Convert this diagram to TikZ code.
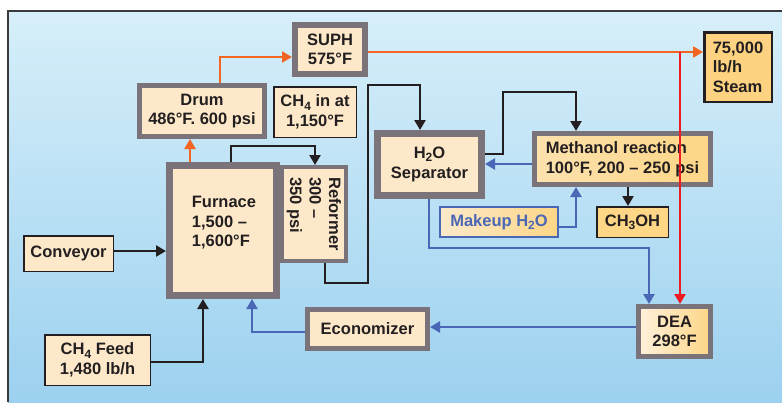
\documentclass[tikz,border=0pt]{standalone}
\usepackage{fontspec}
\setmainfont{Liberation Sans}
\usetikzlibrary{arrows.meta}
\definecolor{bord}{HTML}{7B737A}
\definecolor{txt}{HTML}{231F20}
\definecolor{peach}{HTML}{FDE9CA}
\definecolor{peachM}{HTML}{FDE2AE}
\definecolor{peachL}{HTML}{FFF1DC}
\definecolor{peachD}{HTML}{FDD686}
\definecolor{steamc}{HTML}{FDD281}
\definecolor{orangeL}{HTML}{F26522}
\definecolor{redL}{HTML}{ED1C24}
\definecolor{blueL}{HTML}{4A67B5}
\definecolor{bgtop}{HTML}{D7EFFA}
\definecolor{bgbot}{HTML}{9CD1EF}
\definecolor{framec}{HTML}{3A3A3A}
\newcommand{\dsub}[1]{\raisebox{-0.35ex}{\fontsize{12}{12}\selectfont #1}}
\tikzset{
  txtst/.style={inner sep=0pt, text=txt, font=\bfseries\fontsize{16.5}{19.5}\selectfont},
  gbox/.style={txtst, draw=bord, line width=5pt, fill=peach, align=center},
  tbox/.style={txtst, draw=txt, line width=1.5pt, fill=peach, align=center},
  arr/.style={line width=2.7pt, -{Triangle[length=10pt,width=11pt]}},
  oarr/.style={arr, draw=orangeL},
  rarr/.style={arr, draw=redL},
  barr/.style={arr, draw=blueL},
  karr/.style={arr, draw=txt},
}
\begin{document}
\begin{tikzpicture}[x=1pt,y=-1pt]
\useasboundingbox (0,0) rectangle (782,402);
\shade[top color=bgtop,bottom color=bgbot] (8,11) rectangle (782,402);
\draw[line width=2pt,framec] (8,402) -- (8,11) -- (782,11);

% boxes
\node[gbox, line width=6pt, minimum width=70pt, minimum height=49pt] (suph) at (330,49.5) {SUPH\\575°F};
\node[gbox, minimum width=125pt, minimum height=51pt] (drum) at (202,111) {Drum\\486°F. 600 psi};
\node[tbox, minimum width=82.5pt, minimum height=50.5pt] (ch4in) at (315,112) {CH\dsub{4} in at\\1,150°F};
\node[gbox, line width=4pt, rotate=-90, align=left, minimum width=94pt, minimum height=64pt] (reformer) at (314,214) {Reformer\\300 –\\350 psi};
\node[gbox, line width=7pt, minimum width=107pt, minimum height=130pt] (furnace) at (223,230.5) {};
\node[txtst, align=left] (furnacetxt) at (224,223) {Furnace\\1,500 –\\1,600°F};
\node[tbox, minimum width=89.5pt, minimum height=35.5pt] (conveyor) at (68.5,253.5) {Conveyor};
\node[tbox, minimum width=105.5pt, minimum height=50.5pt] (feed) at (97.5,360) {CH\dsub{4} Feed\\1,480 lb/h};
\node[gbox, minimum width=120pt, minimum height=39pt] (econ) at (367.5,329) {Economizer};
\node[gbox, left color=peachL, right color=peachD, minimum width=72pt, minimum height=50pt] (dea) at (674.5,331.5) {DEA\\298°F};
\node[gbox, line width=7pt, fill=peach, minimum width=104pt, minimum height=62pt] (sep) at (429.5,164.5) {H\dsub{2}O\\Separator};
\node[gbox, align=left, left color=peachM, right color=peachD, minimum width=176pt, minimum height=51pt] (meth) at (622.5,159) {Methanol reaction\\100°F, 200 – 250 psi};
\node[gbox, draw=blueL, line width=2pt, text=blueL, left color=peach, right color=peachD, minimum width=118pt, minimum height=30pt] (makeup) at (499,222) {Makeup H\dsub{2}O};
\node[tbox, fill=peachD, minimum width=71.5pt, minimum height=30.5pt] (ch3oh) at (632.5,222) {CH\dsub{3}OH};
\node[tbox, line width=2.5pt, fill=steamc, align=left, minimum width=67.5pt, minimum height=69.5pt] (steam) at (738,67) {75,000\\lb/h\\Steam};

\coordinate (split) at (680,52);

% orange
\draw[oarr] (furnace.north -| 190,0) -- (drum.south -| 190,0);
\draw[oarr] (drum.north -| 220,0) |- (suph.west |- 0,57);
\draw[oarr] (suph.east |- 0,52) -- (steam.west |- 0,52);
% red
\draw[rarr] (split) -- (dea.north -| split);
% black
\draw[karr] (furnace.north -| 231,0) -- (231,146) -| (reformer.west -| 315,0);
\draw[karr] (reformer.east -| 325,0) -- (325,283) -- (368,283) -- (368,85) -| (sep.north -| 420,0);
\draw[karr] (sep.east |- 0,154) -- (503,154) -- (503,92) -| (meth.north -| 576,0);
\draw[karr] (meth.south -| 628,0) -- (ch3oh.north -| 628,0);
\draw[karr] (conveyor.east |- 0,251) -- (furnace.west |- 0,251);
\draw[karr] (feed.east |- 0,362) -| (furnace.south -| 203,0);
% blue
\draw[barr] (meth.west |- 0,164) -- (sep.east |- 0,164);
\draw[barr] (makeup.east |- 0,227) -| (meth.south -| 576,0);
\draw[barr] (sep.south -| 429,0) -- (429,248) -| (dea.north -| 649,0);
\draw[barr] (dea.west |- 0,327) -- (econ.east |- 0,327);
\draw[barr] (econ.west |- 0,332) -| (furnace.south -| 252,0);
\end{tikzpicture}
\end{document}
